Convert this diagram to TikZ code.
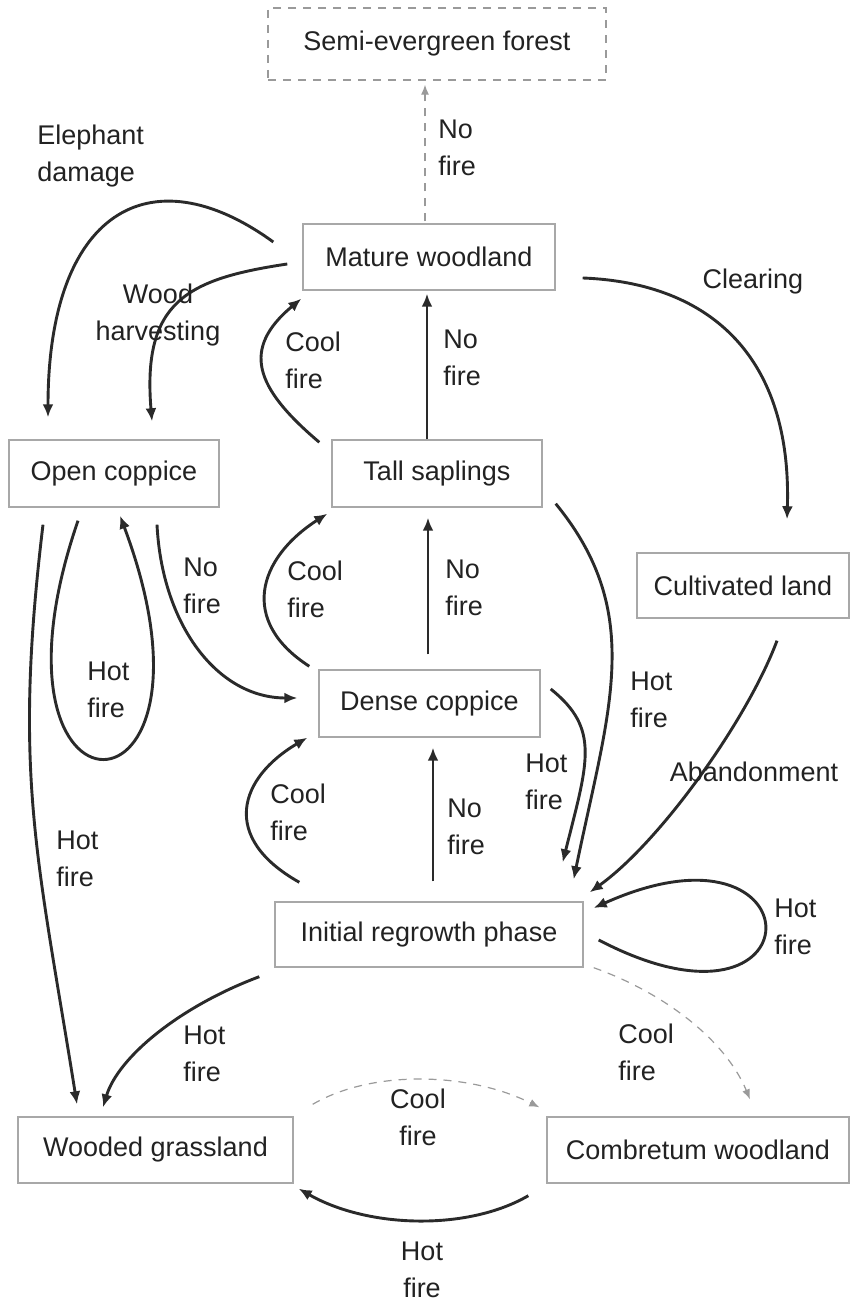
\documentclass[tikz,border=0pt]{standalone}
\usepackage{fontspec}
\setmainfont{Liberation Sans}
\usepackage{tikz}
\usetikzlibrary{arrows.meta}

\definecolor{boxgray}{HTML}{A8A8A8}
\definecolor{linegray}{HTML}{2A2A2A}
\definecolor{dashgray}{HTML}{9A9A9A}
\definecolor{txt}{HTML}{222222}

\begin{document}
\begin{tikzpicture}[x=0.5pt,y=0.5pt,
	font=\fontsize{13.5}{18.5}\selectfont,
	box/.style={rectangle,draw=boxgray,line width=0.7pt,inner sep=0pt,text=txt,minimum height=33pt},
	lbl/.style={inner sep=0pt,align=left,anchor=west,text=txt},
	arr/.style={draw=linegray,line width=1.45pt,-{Latex[length=6.5pt,width=5.5pt]}},
	darr/.style={draw=dashgray,line width=0.6pt,dash pattern=on 4pt off 3.5pt,-{Latex[length=5pt,width=4pt]}}]

		\useasboundingbox (0,0) rectangle (850,1306);

		\node[box,draw=dashgray,dash pattern=on 4pt off 3.5pt,minimum width=169pt,minimum height=36pt] (semi) at (437,1262) {Semi-evergreen forest};
		\node[box,minimum width=126pt] (mature) at (429,1049) {Mature woodland};
		\node[box,minimum width=105pt,minimum height=33.5pt] (open) at (114,832.5) {Open coppice};
		\node[box,minimum width=105pt,minimum height=33.5pt] (tall) at (437,832.5) {Tall saplings};
		\node[box,minimum width=106pt,minimum height=32.5pt] (cult) at (743,720.5) {Cultivated land};
		\node[box,minimum width=110.5pt,minimum height=33.5pt] (dense) at (429.5,602.5) {Dense coppice};
		\node[box,minimum width=154pt,minimum height=32.5pt] (init) at (429,371.5) {Initial regrowth phase};
		\node[box,minimum width=137.5pt] (wooded) at (155.5,156) {Wooded grassland};
		\node[box,minimum width=151pt] (combr) at (698,156) {Combretum woodland};

		% out of mature woodland
		\draw[darr] ([shift={(-4,2)}]mature.north) -- ([shift={(-12,-4)}]semi.south);
		\draw[arr] ([shift={(-29,15)}]mature.west) .. controls +(-124,90) and +(0,205) .. ([shift={(-66,22)}]open.north);
		\draw[arr] ([shift={(-15,-7)}]mature.west) .. controls +(-100,-15) and +(-10,120) .. ([shift={(38,18)}]open.north);
		\draw[arr] ([shift={(27,-21)}]mature.east) .. controls +(130,-5) and +(5,160) .. ([shift={(44,33)}]cult.north);

		% into mature woodland
		\draw[arr] ([shift={(-12,-3)}]tall.north west) .. controls +(-65,55) and +(-60,-50) .. ([shift={(-1,-8)}]mature.south west);
		\draw[arr] ([shift={(-10,0)}]tall.north) -- ([shift={(-2,-3)}]mature.south);

		% open coppice
		\draw[arr] ([shift={(-36,-13)}]open.south) .. controls +(-110,-320) and +(120,-320) .. ([shift={(6,-8)}]open.south);
		\draw[arr] ([shift={(-71,-17)}]open.south) .. controls +(-30,-250) and +(-40,250) .. ([shift={(-78.5,12)}]wooded.north);
		\draw[arr] ([shift={(43,-17)}]open.south) .. controls +(5,-100) and +(-80,0) .. ([shift={(-21,5.5)}]dense.west);

		% dense coppice
		\draw[arr] ([shift={(-9,3)}]dense.north west) .. controls +(-70,45) and +(-70,-45) .. ([shift={(-4,-6)}]tall.south west);
		\draw[arr] ([shift={(-1.5,15)}]dense.north) -- ([shift={(-9,-10)}]tall.south);
		\draw[arr] ([shift={(10,14.5)}]dense.east) .. controls +(50,-40) and +(25,100) .. ([shift={(-21,39)}]init.north east);

		% into initial regrowth
		\draw[arr] ([shift={(13,4)}]tall.south east) .. controls +(90,-110) and +(35,170) .. ([shift={(-10,22)}]init.north east);
		\draw[arr] ([shift={(34,-22)}]cult.south) .. controls +(-30,-80) and +(70,50) .. ([shift={(6,9)}]init.north east);
		\draw[arr] ([shift={(15,-5.5)}]init.east) .. controls +(222,-116) and +(227,102) .. ([shift={(10,26.5)}]init.east);

		% out of initial regrowth
		\draw[arr] ([shift={(25,19)}]init.north west) .. controls +(-80,45) and +(-68,-40) .. ([shift={(-11,0)}]dense.south west);
		\draw[arr] ([shift={(4,20)}]init.north) -- ([shift={(3.5,-10)}]dense.south);
		\draw[arr] ([shift={(-15,-9)}]init.south west) .. controls +(-80,-30) and +(15,50) .. ([shift={(-52.5,9)}]wooded.north);
		\draw[darr] ([shift={(10,0)}]init.south east) .. controls +(70,-25) and +(-25,60) .. ([shift={(52,17)}]combr.north);

		% bottom pair
		\draw[darr] ([shift={(19,12)}]wooded.north east) .. controls +(60,35) and +(-70,35) .. ([shift={(-7,9)}]combr.north west);
		\draw[arr] ([shift={(-18,-12)}]combr.south west) .. controls +(-60,-35) and +(70,-40) .. ([shift={(5,-5)}]wooded.south east);

		% labels
		\node[lbl] (l-semi) at (438,1158) {No\\fire};
		\node[lbl] (l-eleph) at (37,1149.5) {Elephant\\damage};
		\node[lbl,anchor=center,align=center] (l-wood) at (158,991) {Wood\\harvesting};
		\node[lbl] (l-tm-cool) at (285,946) {Cool\\fire};
		\node[lbl] (l-tm-no) at (443,948) {No\\fire};
		\node[lbl,anchor=center] (l-clear) at (753,1024) {Clearing};
		\node[lbl] (l-od-no) at (183,720) {No\\fire};
		\node[lbl] (l-oo-hot) at (87,616) {Hot\\fire};
		\node[lbl] (l-dt-cool) at (287,717) {Cool\\fire};
		\node[lbl] (l-dt-no) at (445,718) {No\\fire};
		\node[lbl] (l-ti-hot) at (630,606) {Hot\\fire};
		\node[lbl] (l-di-hot) at (525,524) {Hot\\fire};
		\node[lbl,anchor=center] (l-aband) at (754,534) {Abandonment};
		\node[lbl] (l-id-cool) at (270,494) {Cool\\fire};
		\node[lbl] (l-id-no) at (447,479) {No\\fire};
		\node[lbl] (l-ow-hot) at (56,447) {Hot\\fire};
		\node[lbl] (l-ii-hot) at (774,379) {Hot\\fire};
		\node[lbl] (l-iw-hot) at (183,252) {Hot\\fire};
		\node[lbl] (l-ic-cool) at (618,254) {Cool\\fire};
		\node[lbl,anchor=center,align=center] (l-wc-cool) at (418,189) {Cool\\fire};
		\node[lbl,anchor=center,align=center] (l-cw-hot) at (422,36) {Hot\\fire};

	\end{tikzpicture}
\end{document}
